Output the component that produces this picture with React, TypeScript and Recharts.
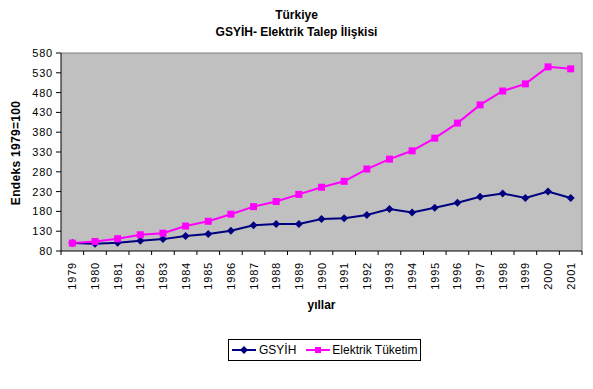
import { LineChart, Line, XAxis, YAxis, CartesianGrid } from 'recharts'

const years = ['1979', '1980', '1981', '1982', '1983', '1984', '1985', '1986', '1987', '1988', '1989', '1990',
  '1991', '1992', '1993', '1994', '1995', '1996', '1997', '1998', '1999', '2000', '2001']
const gsyih = [100, 98, 101, 106, 110, 118, 123, 131, 145, 148, 148, 161, 163, 171, 186, 177, 189, 202, 217, 225, 214, 230, 214]
const elektrik = [100, 104, 111, 121, 125, 143, 155, 173, 192, 205, 223, 241, 256, 287, 312, 333, 365, 403, 449, 484, 502, 545, 540]
const yTicks = [80, 130, 180, 230, 280, 330, 380, 430, 480, 530, 580]

const data = years.map((year, i) => ({ year, gsyih: gsyih[i], elektrik: elektrik[i] }))

const W = 593
const H = 389
const M = { top: 53, right: 11, bottom: 98, left: 0 }
const Y_W = 61
const PLOT_W = W - Y_W - M.right
const STEP = PLOT_W / years.length
const FONT = '"Liberation Sans", Arial, sans-serif'

function YearTick({ x, y, payload, index }: any) {
  const last = index === years.length - 1
  return (
    <g>
      <line x1={x - STEP / 2} y1={y} x2={x - STEP / 2} y2={y + 4} stroke="#000" />
      {last && <line x1={x + STEP / 2} y1={y} x2={x + STEP / 2} y2={y + 4} stroke="#000" />}
      <text x={x} y={y + 11} dy={4} transform={`rotate(-90 ${x} ${y + 11})`} textAnchor="end"
        fontSize={11} letterSpacing={0.8} fill="#000" fontFamily={FONT}>
        {payload.value}
      </text>
    </g>
  )
}

function Diamond({ cx, cy, index }: any) {
  return <path key={index} d={`M${cx},${cy - 4}L${cx + 4},${cy}L${cx},${cy + 4}L${cx - 4},${cy}Z`} fill="#000080" />
}

function Square({ cx, cy, index }: any) {
  return <rect key={index} x={cx - 3.5} y={cy - 3.5} width={7} height={7} fill="#FF00FF" />
}

export default function App() {
  return (
    <div style={{ position: 'absolute', left: 0, top: 0, width: W, height: H, background: '#fff', fontFamily: FONT }}>
      <div style={{ position: 'absolute', top: 7, width: W, textAlign: 'center', fontSize: 12, fontWeight: 'bold', lineHeight: '17px' }}>
        Türkiye<br />GSYİH- Elektrik Talep İlişkisi
      </div>
      <div style={{ position: 'absolute', left: 16, top: 153, transform: 'translate(-50%, -50%) rotate(-90deg)', whiteSpace: 'nowrap', fontSize: 12, fontWeight: 'bold', letterSpacing: 0.3 }}>
        Endeks 1979=100
      </div>
      <div style={{ position: 'absolute', left: Y_W, width: PLOT_W, top: 298, textAlign: 'center', fontSize: 12, fontWeight: 'bold' }}>
        yıllar
      </div>
      <LineChart width={W} height={H} data={data} margin={M}>
        <CartesianGrid fill="#C0C0C0" stroke="#808080"
          horizontalCoordinatesGenerator={({ offset }: any) => [offset.top]}
          verticalCoordinatesGenerator={({ offset }: any) => [offset.left + offset.width]} />
        <XAxis dataKey="year" height={40} interval={0} tickLine={false} tickSize={0} tickMargin={0}
          padding={{ left: STEP / 2, right: STEP / 2 }} axisLine={{ stroke: '#000' }} tick={<YearTick />} />
        <YAxis width={Y_W} domain={[80, 580]} ticks={yTicks} interval={0} tickSize={5} tickMargin={3}
          axisLine={{ stroke: '#000' }} tickLine={{ stroke: '#000' }}
          tick={{ fontSize: 11, fill: '#000', fontFamily: FONT, letterSpacing: 0.8 }} />
        <Line type="linear" dataKey="gsyih" name="GSYİH" stroke="#000080" strokeWidth={2} dot={Diamond} isAnimationActive={false} />
        <Line type="linear" dataKey="elektrik" name="Elektrik Tüketim" stroke="#FF00FF" strokeWidth={2} dot={Square} isAnimationActive={false} />
      </LineChart>
      <div style={{ position: 'absolute', left: 228, top: 339, width: 191, height: 20, border: '1px solid #000', display: 'flex', alignItems: 'center', fontSize: 12, background: '#fff' }}>
        <svg width={24} height={10} style={{ marginLeft: 3 }}>
          <line x1={0} y1={5} x2={24} y2={5} stroke="#000080" strokeWidth={2} />
          <path d="M12,1L16,5L12,9L8,5Z" fill="#000080" />
        </svg>
        <span style={{ marginLeft: 3 }}>GSYİH</span>
        <svg width={24} height={10} style={{ marginLeft: 10 }}>
          <line x1={0} y1={5} x2={24} y2={5} stroke="#FF00FF" strokeWidth={2} />
          <rect x={9} y={2} width={6} height={6} fill="#FF00FF" />
        </svg>
        <span style={{ marginLeft: 2 }}>Elektrik Tüketim</span>
      </div>
    </div>
  )
}
